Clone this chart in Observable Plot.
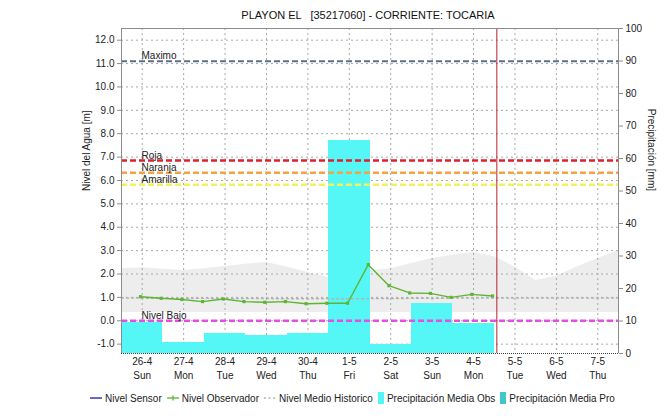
<!DOCTYPE html>
<html><head><meta charset="utf-8">
<script src="https://cdn.jsdelivr.net/npm/d3@7"></script>
<script src="https://cdn.jsdelivr.net/npm/@observablehq/plot@0.6"></script>
<style>
body{margin:0;background:#fff;font-family:"Liberation Sans",Arial,sans-serif;}
#wrap{width:666px;height:418px;position:relative;overflow:hidden;}
#title{height:22px;line-height:22px;padding-top:4px;box-sizing:border-box;text-align:center;font-size:11px;color:#111;white-space:pre;padding-left:70px;}
#legend{display:flex;justify-content:center;align-items:center;font-size:10px;color:#222;height:26px;white-space:pre;padding-left:44px;}
#legend .it{display:flex;align-items:center;margin-right:5px;}
#legend svg{margin-right:3px;}
svg{display:block}
</style></head>
<body><div id="wrap">
<div id="title">PLAYON EL   [35217060] - CORRIENTE: TOCARIA</div>
<div id="chart"></div>
<div id="legend"></div>
</div>
<script>
// ---- data ----
const dayLabels = ["26-4","27-4","28-4","29-4","30-4","1-5","2-5","3-5","4-5","5-5","6-5","7-5"];
const weekdays = ["Sun","Mon","Tue","Wed","Thu","Fri","Sat","Sun","Mon","Tue","Wed","Thu"];
const dayDates = ["2015-04-26","2015-04-27","2015-04-28","2015-04-29","2015-04-30","2015-05-01","2015-05-02","2015-05-03","2015-05-04","2015-05-05","2015-05-06","2015-05-07"];

const precipDays = ["2015-04-26","2015-04-27","2015-04-28","2015-04-29","2015-04-30","2015-05-01","2015-05-02","2015-05-03","2015-05-04"];
const precipObs = [9.6, 3.5, 6.3, 5.5, 6.2, 65.5, 2.7, 15.5, 9.3];

const obsTimes = ["2015-04-26T11:00","2015-04-26T23:00","2015-04-27T11:00","2015-04-27T23:00","2015-04-28T11:00","2015-04-28T23:00","2015-04-29T11:00","2015-04-29T23:00","2015-04-30T11:00","2015-04-30T23:00","2015-05-01T11:00","2015-05-01T23:00","2015-05-02T11:00","2015-05-02T23:00","2015-05-03T11:00","2015-05-03T23:00","2015-05-04T11:00","2015-05-04T23:00"];
const obsLevel = [1.03, 0.96, 0.91, 0.82, 0.93, 0.82, 0.79, 0.82, 0.73, 0.75, 0.75, 2.40, 1.50, 1.19, 1.17, 1.00, 1.13, 1.06];

const histTimes = ["2015-04-26T00:00","2015-04-26T12:00","2015-04-27T00:00","2015-04-27T12:00","2015-04-28T00:00","2015-04-28T12:00","2015-04-29T00:00","2015-04-29T12:00","2015-04-30T00:00","2015-04-30T12:00","2015-05-01T00:00","2015-05-01T12:00","2015-05-02T00:00","2015-05-02T12:00","2015-05-03T00:00","2015-05-03T12:00","2015-05-04T00:00","2015-05-04T12:00","2015-05-05T00:00","2015-05-05T12:00","2015-05-06T00:00","2015-05-06T12:00","2015-05-07T00:00","2015-05-07T12:00","2015-05-08T00:00"];
const histHigh = [2.23,2.27,2.20,2.15,2.22,2.32,2.42,2.49,2.30,2.06,1.85,2.00,2.15,2.23,2.45,2.66,2.80,2.92,2.75,2.30,1.72,1.90,2.30,2.66,3.00];
const histLow  = [0.35,0.35,0.35,0.35,0.35,0.35,0.35,0.35,0.35,0.35,0.35,0.35,0.35,0.35,0.35,0.35,0.35,0.35,0.35,0.35,0.35,0.35,0.35,0.35,0.35];
const histMean = [0.97,0.97,0.96,0.96,0.96,0.95,0.95,0.95,0.94,0.94,0.94,0.94,0.95,0.95,0.96,0.96,0.97,0.97,0.97,0.97,0.97,0.97,0.97,0.97,0.97];

const thrNames = ["Maximo","Roja","Naranja","Amarilla","Nivel Bajo"];
const thrValues = [11.1, 6.85, 6.33, 5.82, 0.0];

const nowTime = "2015-05-05T01:30";

const levelTicks = [-1,0,1,2,3,4,5,6,7,8,9,10,11,12];
const precipTicks = [0,10,20,30,40,50,60,70,80,90,100];

// ---- styles ----
const thrColors = {"Maximo":"#5b6e8f","Roja":"#e0202c","Naranja":"#f0a446","Amarilla":"#f4f25a","Nivel Bajo":"#e64ce6"};
const Y0 = -1.4, Y1 = 12.5;
const mm2lvl = mm => Y0 + mm * (Y1 - Y0) / 100;
const lvl2mm = v => (v - Y0) * 100 / (Y1 - Y0);
const D = s => new Date(s + (s.length === 10 ? "T00:00Z" : "Z"));

const precip = precipDays.map((d, i) => ({start: D(d), end: d3.utcDay.offset(D(d), 1), mm: precipObs[i]}));
const obs = obsTimes.map((t, i) => ({t: D(t), v: obsLevel[i]}));
const hist = histTimes.map((t, i) => ({t: D(t), lo: histLow[i], hi: histHigh[i], m: histMean[i]}));
const thr = thrNames.map((n, i) => ({name: n, v: thrValues[i]}));
const tickDates = dayDates.map(d => d3.utcHour.offset(D(d), 12));
const xStart = D(dayDates[0]);
const xEnd = d3.utcDay.offset(D(dayDates[dayDates.length - 1]), 1);

const chart = Plot.plot({
  width: 666, height: 363,
  marginTop: 6, marginBottom: 32, marginLeft: 121, marginRight: 48,
  x: {type: "utc", domain: [xStart, xEnd]},
  y: {domain: [Y0, Y1]},
  style: {fontFamily: "'Liberation Sans', Arial, sans-serif", fontSize: "10px", color: "#222", background: "#fff"},
  marks: [
    Plot.areaY(hist, {x: "t", y1: "lo", y2: "hi", fill: "#ededed"}),
    Plot.gridY(levelTicks, {stroke: "#a8a8a8", strokeOpacity: 1, strokeDasharray: "2,3"}),
    Plot.gridX(tickDates, {stroke: "#a8a8a8", strokeOpacity: 1, strokeDasharray: "2,3"}),
    Plot.rect(precip, {x1: "start", x2: "end", y1: Y0, y2: d => mm2lvl(d.mm), fill: "#55f6f6", shapeRendering: "crispEdges"}),
    Plot.line(hist, {x: "t", y: "m", stroke: "#b4b4b4", strokeWidth: 1.5, strokeDasharray: "2,3"}),
    Plot.ruleY(thr, {y: "v", stroke: d => thrColors[d.name], strokeWidth: d => d.name === "Maximo" ? 2 : 2.5, strokeDasharray: "6,3"}),
    Plot.text(thr, {y: "v", text: "name", frameAnchor: "left", dx: 20, dy: -5, textAnchor: "start", fill: "#222", fontSize: 10}),
    Plot.line(obs, {x: "t", y: "v", stroke: "#5db534", strokeWidth: 1.4}),
    Plot.dot(obs, {x: "t", y: "v", symbol: "square", r: 1.8, fill: "#5db534"}),
    Plot.ruleX([D(nowTime)], {stroke: "#b82030", strokeWidth: 1}),
    Plot.ruleY([Y1], {stroke: "#8c8c8c"}),
    Plot.ruleX([xStart, xEnd], {stroke: "#8c8c8c"}),
    Plot.ruleY([Y0], {stroke: "#444", strokeDasharray: "1,1"}),
    Plot.axisY(levelTicks, {anchor: "left", tickFormat: d => d.toFixed(1), tickSize: 4, tickPadding: 3, stroke: "#8c8c8c", label: null}),
    Plot.axisY(precipTicks.map(mm2lvl), {anchor: "right", tickFormat: v => String(Math.round(lvl2mm(v))), tickSize: 4, tickPadding: 3, stroke: "#8c8c8c", label: null}),
    Plot.axisX(tickDates, {anchor: "bottom", tickSize: 0, tickPadding: 2, label: null, lineHeight: 1.4,
      tickFormat: d => { const i = d3.utcDay.count(xStart, d); return dayLabels[i] + "\n" + weekdays[i]; }}),
    Plot.text(["Nivel del Agua [m]"], {frameAnchor: "left", dx: -35, rotate: -90, fontSize: 10, fill: "#222"}),
    Plot.text(["Precipitación [mm]"], {frameAnchor: "right", dx: 33, rotate: 90, fontSize: 10, fill: "#222"})
  ]
});
document.getElementById("chart").appendChild(chart);

// legend
const legendItems = [
  {label: "Nivel Sensor", kind: "line", color: "#1a1aa0"},
  {label: "Nivel Observador", kind: "marker", color: "#5db534"},
  {label: "Nivel Medio Historico", kind: "dots", color: "#b4b4b4"},
  {label: "Precipitación Media Obs", kind: "box", color: "#55f6f6"},
  {label: "Precipitación Media Pro", kind: "box", color: "#40c8c8"}
];
const lg = document.getElementById("legend");
for (const it of legendItems) {
  const el = document.createElement("div"); el.className = "it";
  let sw;
  if (it.kind === "line") sw = `<svg width="12" height="10"><line x1="0" x2="12" y1="5" y2="5" stroke="${it.color}" stroke-width="1.3"/></svg>`;
  else if (it.kind === "marker") sw = `<svg width="12" height="10"><line x1="0" x2="12" y1="5" y2="5" stroke="${it.color}" stroke-width="1.3"/><line x1="6" x2="6" y1="2.5" y2="7.5" stroke="${it.color}" stroke-width="1.3"/></svg>`;
  else if (it.kind === "dots") sw = `<svg width="12" height="10"><line x1="0" x2="12" y1="5" y2="5" stroke="${it.color}" stroke-width="1.5" stroke-dasharray="2,2.5"/></svg>`;
  else sw = `<svg width="6" height="12"><rect x="0" y="0" width="6" height="12" fill="${it.color}"/></svg>`;
  el.innerHTML = sw + `<span>${it.label}</span>`;
  lg.appendChild(el);
}
</script>
</body></html>
